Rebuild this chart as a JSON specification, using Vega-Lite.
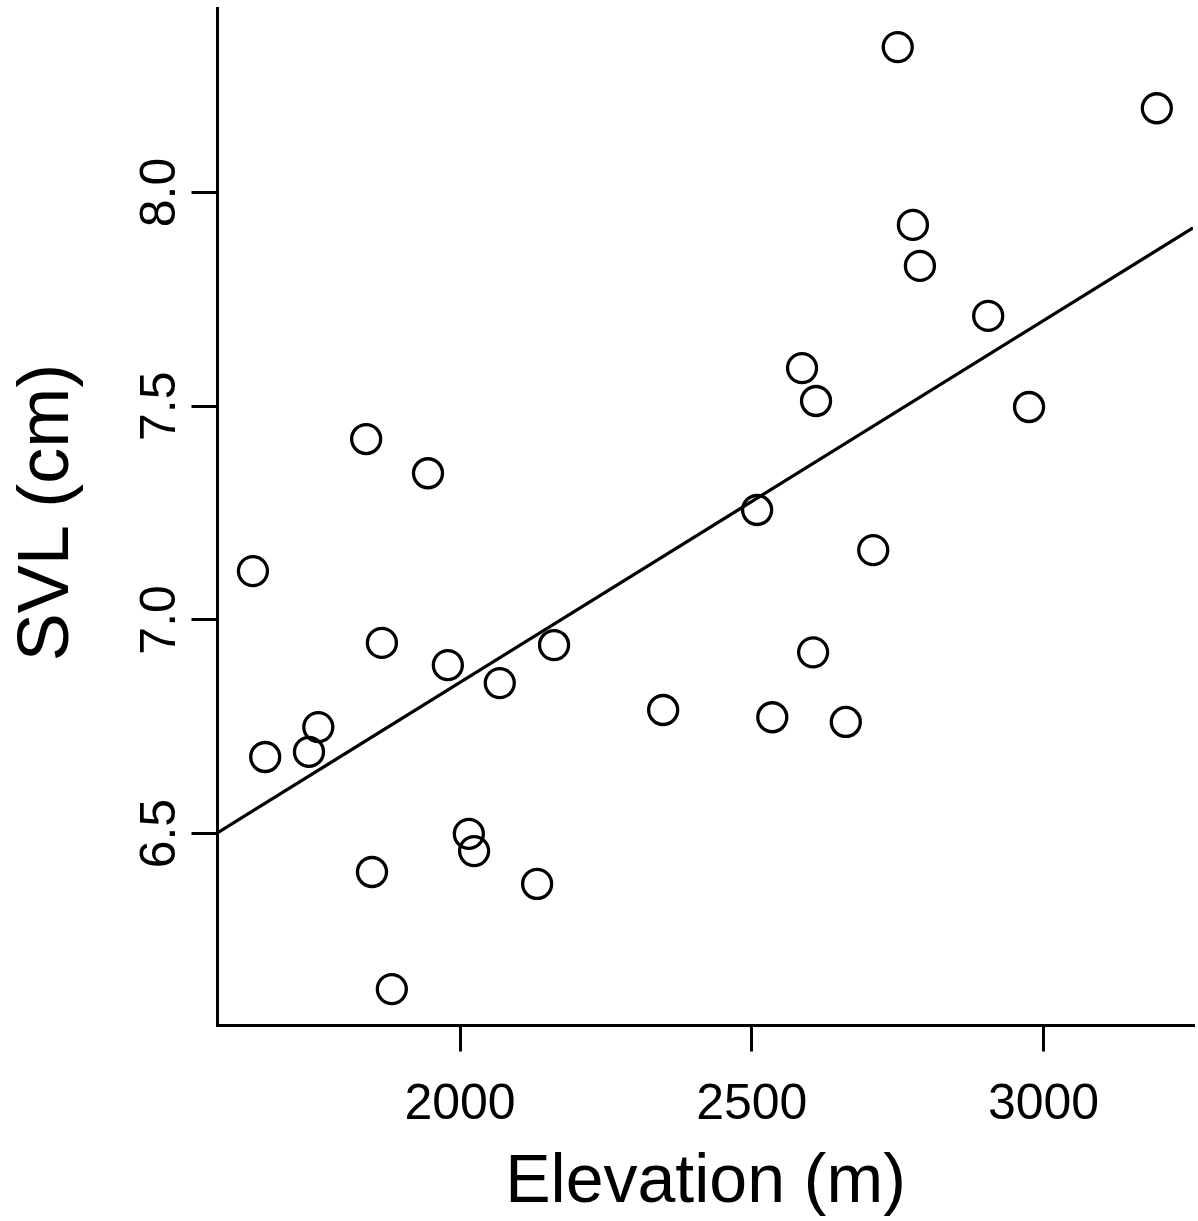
{
  "$schema": "https://vega.github.io/schema/vega-lite/v6.json",
  "width": 976,
  "height": 1017,
  "autosize": {"type": "none"},
  "padding": {"left": 217, "top": 8, "right": 5, "bottom": 196},
  "background": "white",
  "config": {
    "view": {"stroke": null},
    "font": "Liberation Sans",
    "axis": {
      "grid": false,
      "domainColor": "black",
      "domainWidth": 3,
      "domainCap": "square",
      "tickColor": "black",
      "tickWidth": 3,
      "tickSize": 26,
      "labelFont": "Liberation Sans",
      "labelFontSize": 50,
      "labelColor": "black",
      "labelFlush": false,
      "labelOverlap": false,
      "titleFont": "Liberation Sans",
      "titleFontSize": 68,
      "titleFontWeight": "normal",
      "titleColor": "black"
    }
  },
  "datasets": {
    "points": [
      {"elevation": 2751, "svl": 8.339},
      {"elevation": 3195, "svl": 8.196},
      {"elevation": 2777, "svl": 7.923},
      {"elevation": 2789, "svl": 7.827},
      {"elevation": 2906, "svl": 7.710},
      {"elevation": 2976, "svl": 7.497},
      {"elevation": 2587, "svl": 7.588},
      {"elevation": 2611, "svl": 7.511},
      {"elevation": 2510, "svl": 7.256},
      {"elevation": 2709, "svl": 7.162},
      {"elevation": 2606, "svl": 6.923},
      {"elevation": 2536, "svl": 6.771},
      {"elevation": 2662, "svl": 6.760},
      {"elevation": 2349, "svl": 6.788},
      {"elevation": 2162, "svl": 6.940},
      {"elevation": 2069, "svl": 6.851},
      {"elevation": 1980, "svl": 6.893},
      {"elevation": 1867, "svl": 6.945},
      {"elevation": 1946, "svl": 7.342},
      {"elevation": 1840, "svl": 7.422},
      {"elevation": 1646, "svl": 7.113},
      {"elevation": 1667, "svl": 6.678},
      {"elevation": 1742, "svl": 6.690},
      {"elevation": 1758, "svl": 6.748},
      {"elevation": 2016, "svl": 6.498},
      {"elevation": 2025, "svl": 6.458},
      {"elevation": 1850, "svl": 6.409},
      {"elevation": 2133, "svl": 6.381},
      {"elevation": 1884, "svl": 6.135}
    ],
    "fit": [
      {"elevation": 1584.4, "svl": 6.5},
      {"elevation": 3257, "svl": 7.916}
    ]
  },
  "layer": [
    {
      "data": {"name": "points"},
      "mark": {"type": "point", "shape": "circle", "filled": false, "stroke": "black", "strokeWidth": 3.3, "size": 841, "opacity": 1},
      "encoding": {
        "x": {
          "field": "elevation", "type": "quantitative",
          "scale": {"domain": [1584.4, 3257], "nice": false, "zero": false},
          "axis": {
            "values": [2000, 2500, 3000], "format": "d",
            "labelPadding": 27,
            "title": "Elevation (m)",
            "titleBaseline": "alphabetic",
            "titleY": 176
          }
        },
        "y": {
          "field": "svl", "type": "quantitative",
          "scale": {"domain": [6.051, 8.4305], "nice": false, "zero": false},
          "axis": {
            "values": [6.5, 7.0, 7.5, 8.0], "format": ".1f",
            "labelAngle": -90,
            "labelAlign": "center",
            "labelBaseline": "alphabetic",
            "labelPadding": 17,
            "title": "SVL (cm)",
            "titleFontSize": 72,
            "titleAngle": -90,
            "titleBaseline": "alphabetic",
            "titleX": -150,
            "titleY": 504
          }
        }
      }
    },
    {
      "data": {"name": "fit"},
      "mark": {"type": "line", "color": "black", "strokeWidth": 3.3, "clip": true},
      "encoding": {
        "x": {"field": "elevation", "type": "quantitative"},
        "y": {"field": "svl", "type": "quantitative"}
      }
    }
  ]
}
